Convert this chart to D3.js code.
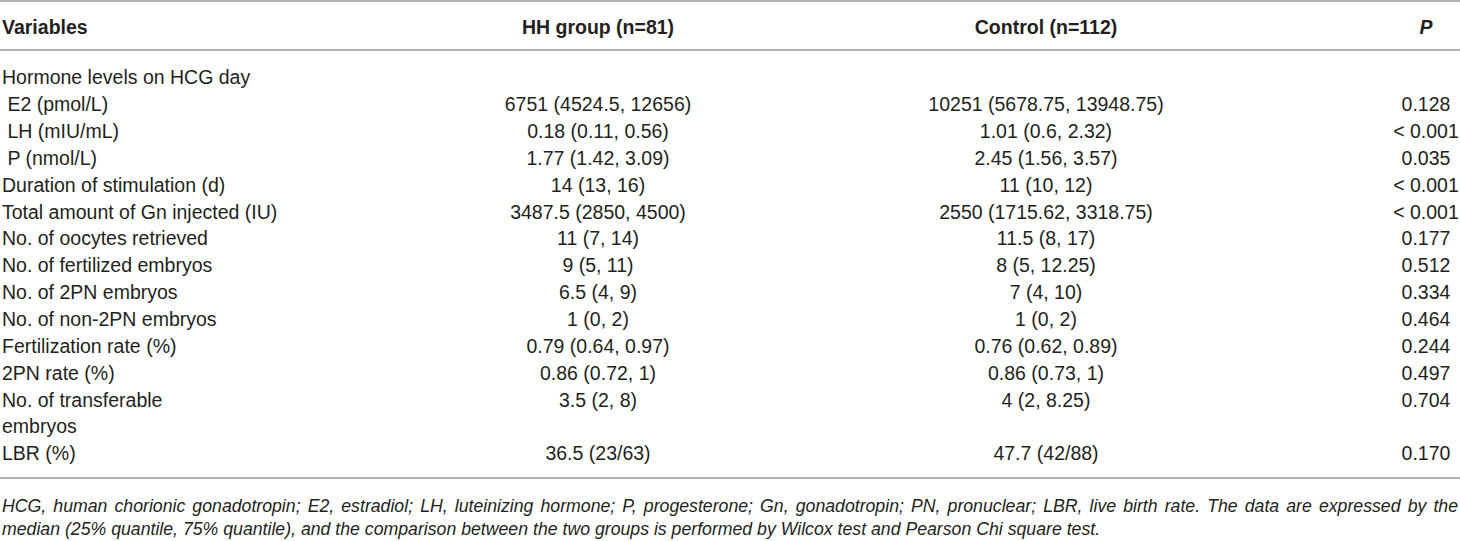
<!DOCTYPE html>
<html>
<head>
<meta charset="utf-8">
<script src="https://cdn.jsdelivr.net/npm/d3@7"></script>
<style>
  html, body { margin: 0; padding: 0; background: #fff; }
  svg text { font-family: "Liberation Sans", Arial, sans-serif; fill: #231f20; }
</style>
</head>
<body>
<div id="table"></div>
<script>
// table content
const headers = ["Variables", "HH group (n=81)", "Control (n=112)", "P"]

const variables = [
    "Hormone levels on HCG day",
    " E2 (pmol/L)",
    " LH (mIU/mL)",
    " P (nmol/L)",
    "Duration of stimulation (d)",
    "Total amount of Gn injected (IU)",
    "No. of oocytes retrieved",
    "No. of fertilized embryos",
    "No. of 2PN embryos",
    "No. of non-2PN embryos",
    "Fertilization rate (%)",
    "2PN rate (%)",
    "No. of transferable",
    "embryos",
    "LBR (%)"
]

const hhGroup = [
    "", "6751 (4524.5, 12656)", "0.18 (0.11, 0.56)", "1.77 (1.42, 3.09)",
    "14 (13, 16)", "3487.5 (2850, 4500)", "11 (7, 14)", "9 (5, 11)",
    "6.5 (4, 9)", "1 (0, 2)", "0.79 (0.64, 0.97)", "0.86 (0.72, 1)",
    "3.5 (2, 8)", "", "36.5 (23/63)"
]

const control = [
    "", "10251 (5678.75, 13948.75)", "1.01 (0.6, 2.32)", "2.45 (1.56, 3.57)",
    "11 (10, 12)", "2550 (1715.62, 3318.75)", "11.5 (8, 17)", "8 (5, 12.25)",
    "7 (4, 10)", "1 (0, 2)", "0.76 (0.62, 0.89)", "0.86 (0.73, 1)",
    "4 (2, 8.25)", "", "47.7 (42/88)"
]

const pValues = [
    "", "0.128", "< 0.001", "0.035", "< 0.001", "< 0.001", "0.177", "0.512",
    "0.334", "0.464", "0.244", "0.497", "0.704", "", "0.170"
]

const footnote = [
    "HCG, human chorionic gonadotropin; E2, estradiol; LH, luteinizing hormone; P, progesterone; Gn, gonadotropin; PN, pronuclear; LBR, live birth rate. The data are expressed by the",
    "median (25% quantile, 75% quantile), and the comparison between the two groups is performed by Wilcox test and Pearson Chi square test."
]

const w = 1460
const h = 541
const fs = 19.5
const noteFs = 17.7

const svg = d3.select('#table')
    .append('svg')
    .attr('width', w)
    .attr('height', h)

// row positions
const yScale = d3.scaleLinear()
    .domain([0, variables.length - 1])
    .range([77.5, 453.5])

// column anchors
const cols = [
    { x: 2, anchor: "start" },
    { x: 598, anchor: "middle" },
    { x: 1046, anchor: "middle" },
    { x: 1426, anchor: "middle" }
]

// rules
const rules = [1, 50, 478]
svg.selectAll('line.rule')
    .data(rules)
    .enter()
    .append('line')
    .attr('class', 'rule')
    .attr('x1', 0)
    .attr('x2', w)
    .attr('y1', d => d)
    .attr('y2', d => d)
    .attr('stroke', '#9a9a9a')
    .attr('stroke-width', 1.6)

// header
svg.append('g')
    .selectAll('text')
    .data(headers)
    .enter()
    .append('text')
    .attr('x', (d, i) => cols[i].x)
    .attr('y', 27)
    .attr('dy', '0.35em')
    .attr('text-anchor', (d, i) => cols[i].anchor)
    .style('font-size', fs + 'px')
    .style('font-weight', 'bold')
    .style('font-style', (d, i) => i === 3 ? 'italic' : 'normal')
    .text(d => d)

// body
const columns = [variables, hhGroup, control, pValues]
columns.forEach((colData, ci) => {
    svg.append('g')
        .selectAll('text')
        .data(colData)
        .enter()
        .append('text')
        .attr('x', cols[ci].x)
        .attr('y', (d, i) => yScale(i))
        .attr('dy', '0.35em')
        .attr('text-anchor', cols[ci].anchor)
        .attr('xml:space', 'preserve')
        .style('white-space', 'pre')
        .style('font-size', fs + 'px')
        .text(d => d)
})

// footnote, first line justified to full width
const notes = svg.append('g')
    .selectAll('text')
    .data(footnote)
    .enter()
    .append('text')
    .attr('x', 2)
    .attr('y', (d, i) => 506 + i * 23)
    .attr('dy', '0.35em')
    .style('font-size', noteFs + 'px')
    .style('font-style', 'italic')
    .text(d => d)

notes.filter((d, i) => i === 0).each(function (d) {
    const natural = this.getComputedTextLength()
    const spaces = d.split(' ').length - 1
    const extra = Math.max(0, (w - 4 - natural) / spaces)
    d3.select(this).style('word-spacing', extra + 'px')
})
</script>
</body>
</html>
